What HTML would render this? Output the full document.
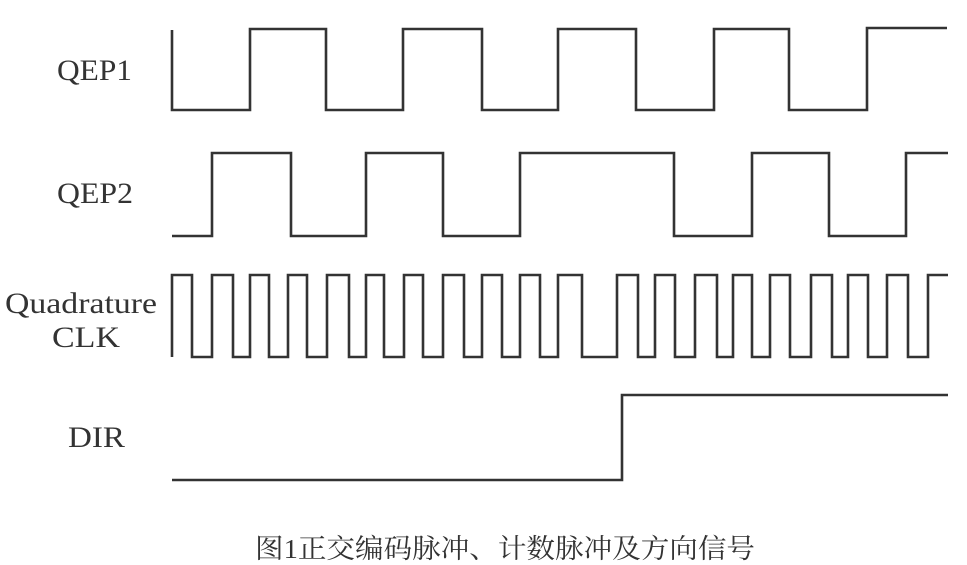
<!DOCTYPE html>
<html><head><meta charset="utf-8"><style>html,body{margin:0;padding:0;background:#fff}svg{display:block}</style></head><body>
<svg width="967" height="565" viewBox="0 0 967 565" xmlns="http://www.w3.org/2000/svg">
<g fill="none" stroke="#333" stroke-width="2.6" stroke-linejoin="miter">
<polyline points="172,30 172,110 250,110 250,29 326,29 326,110 403,110 403,29 482,29 482,110 558,110 558,29 636,29 636,110 714,110 714,29 789,29 789,110 867,110 867,28 947,28"/>
<polyline points="172,236 212,236 212,153 291,153 291,236 366,236 366,153 443,153 443,236 520,236 520,153 674,153 674,236 752,236 752,153 829,153 829,236 906,236 906,153 948,153"/>
<polyline points="172,357 172,275 192,275 192,357 212,357 212,275 233,275 233,357 250,357 250,275 269,275 269,357 288,357 288,275 307,275 307,357 327,357 327,275 349,275 349,357 366,357 366,275 384,275 384,357 404,357 404,275 423,275 423,357 443,357 443,275 464,275 464,357 482,357 482,275 502,275 502,357 520,357 520,275 540,275 540,357 558,357 558,275 582,275 582,357 617,357 617,275 638,275 638,357 655,357 655,275 675,275 675,357 695,357 695,275 717,275 717,357 733,357 733,275 752,275 752,357 770,357 770,275 790,275 790,357 811,357 811,275 832,275 832,357 848,357 848,275 868,275 868,357 887,357 887,275 908,275 908,357 928,357 928,275 948,275"/>
<polyline points="172,480 622,480 622,395 948,395"/>
</g>
<g font-family="Liberation Serif, serif" font-size="30" fill="#333">
<text x="57" y="80" textLength="75" lengthAdjust="spacingAndGlyphs">QEP1</text>
<text x="57" y="203" textLength="76" lengthAdjust="spacingAndGlyphs">QEP2</text>
<text x="5" y="313" textLength="152" lengthAdjust="spacingAndGlyphs">Quadrature</text>
<text x="52" y="347" textLength="68" lengthAdjust="spacingAndGlyphs">CLK</text>
<text x="68" y="447" textLength="57" lengthAdjust="spacingAndGlyphs">DIR</text>
<text x="255" y="558" font-size="27" font-family="Liberation Serif, Noto Serif CJK SC, serif" textLength="500" lengthAdjust="spacingAndGlyphs">图1正交编码脉冲、计数脉冲及方向信号</text>
</g>
</svg>
</body></html>
